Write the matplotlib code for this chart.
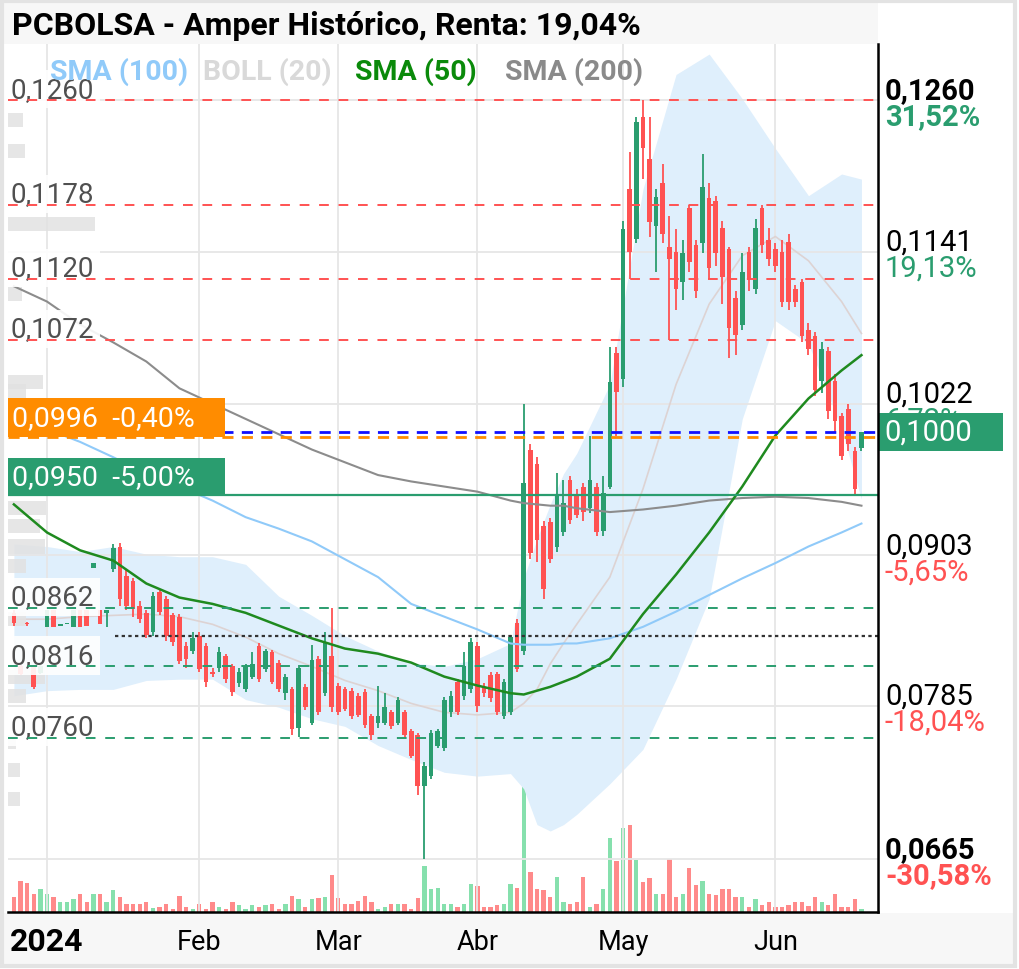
import matplotlib.pyplot as plt
from matplotlib.patches import Rectangle
import matplotlib.transforms as mtransforms
import pandas as pd

plt.rcParams['font.family'] = ['Roboto', 'DejaVu Sans']

W, H = 1020, 970

# sesiones (dias habiles) desde el 25-dic-2023
dates = pd.bdate_range('2023-12-25', periods=129)

opens = [0.0858, 0.0816, 0.0850, 0.0816, 0.0811, 0.0847, 0.0860, 0.0848, 0.0849, 0.0847,
         0.0860, 0.0860, 0.0893, 0.0860, 0.0858, 0.0892, 0.0910, 0.0887, 0.0883, 0.0863,
         0.0858, 0.0843, 0.0874, 0.0869, 0.0856, 0.0855, 0.0832, 0.0828, 0.0840, 0.0832,
         0.0812, 0.0815, 0.0824, 0.0816, 0.0803, 0.0798, 0.0808, 0.0832, 0.0814, 0.0827,
         0.0819, 0.0795, 0.0798, 0.0768, 0.0800, 0.0772, 0.0822, 0.0795, 0.0824, 0.0801,
         0.0798, 0.0797, 0.0793, 0.0796, 0.0777, 0.0772, 0.0772, 0.0780, 0.0772, 0.0780,
         0.0765, 0.0762, 0.0722, 0.0730, 0.0754, 0.0752, 0.0780, 0.0804, 0.0793, 0.0798,
         0.0832, 0.0800, 0.0809, 0.0810, 0.0777, 0.0780, 0.0850, 0.0828, 0.0986, 0.0975,
         0.0926, 0.0929, 0.0910, 0.0921, 0.0962, 0.0950, 0.0957, 0.0940, 0.0957, 0.0922,
         0.0957, 0.1062, 0.1041, 0.1190, 0.1151, 0.1247, 0.1214, 0.1161, 0.1195, 0.1145,
         0.1141, 0.1117, 0.1175, 0.1146, 0.1148, 0.1183, 0.1181, 0.1160, 0.1143, 0.1105,
         0.1084, 0.1141, 0.1112, 0.1175, 0.1150, 0.1143, 0.1141, 0.1149, 0.1112, 0.1117,
         0.1080, 0.1075, 0.1040, 0.1063, 0.1040, 0.1012, 0.1018, 0.0985, 0.0987]
highs = [0.0860, 0.0817, 0.0851, 0.0817, 0.0817, 0.0860, 0.0860, 0.0849, 0.0849, 0.0860,
         0.0860, 0.0860, 0.0897, 0.0860, 0.0860, 0.0912, 0.0913, 0.0892, 0.0885, 0.0867,
         0.0860, 0.0874, 0.0876, 0.0871, 0.0858, 0.0857, 0.0835, 0.0843, 0.0843, 0.0834,
         0.0815, 0.0831, 0.0826, 0.0818, 0.0815, 0.0818, 0.0827, 0.0834, 0.0830, 0.0829,
         0.0821, 0.0810, 0.0800, 0.0817, 0.0802, 0.0833, 0.0824, 0.0843, 0.0862, 0.0803,
         0.0800, 0.0799, 0.0795, 0.0798, 0.0779, 0.0801, 0.0795, 0.0782, 0.0792, 0.0782,
         0.0767, 0.0764, 0.0741, 0.0766, 0.0767, 0.0792, 0.0797, 0.0806, 0.0827, 0.0838,
         0.0835, 0.0803, 0.0812, 0.0812, 0.0806, 0.0841, 0.0853, 0.1022, 0.0990, 0.0980,
         0.0930, 0.0932, 0.0968, 0.0962, 0.0965, 0.0955, 0.0960, 0.0997, 0.0960, 0.0965,
         0.1066, 0.1066, 0.1165, 0.1219, 0.1247, 0.1260, 0.1247, 0.1190, 0.1210, 0.1169,
         0.1159, 0.1150, 0.1178, 0.1150, 0.1218, 0.1195, 0.1185, 0.1165, 0.1145, 0.1110,
         0.1140, 0.1145, 0.1167, 0.1178, 0.1160, 0.1148, 0.1150, 0.1155, 0.1115, 0.1120,
         0.1085, 0.1078, 0.1070, 0.1066, 0.1045, 0.1015, 0.1022, 0.0988, 0.1000]
lows = [0.0848, 0.0809, 0.0848, 0.0798, 0.0810, 0.0847, 0.0847, 0.0848, 0.0849, 0.0847,
        0.0847, 0.0848, 0.0893, 0.0849, 0.0847, 0.0890, 0.0863, 0.0860, 0.0855, 0.0850,
        0.0838, 0.0840, 0.0856, 0.0836, 0.0832, 0.0818, 0.0815, 0.0826, 0.0812, 0.0800,
        0.0808, 0.0812, 0.0803, 0.0793, 0.0800, 0.0796, 0.0806, 0.0804, 0.0812, 0.0802,
        0.0796, 0.0790, 0.0762, 0.0761, 0.0782, 0.0770, 0.0778, 0.0793, 0.0780, 0.0778,
        0.0781, 0.0775, 0.0776, 0.0768, 0.0758, 0.0768, 0.0770, 0.0767, 0.0770, 0.0760,
        0.0744, 0.0715, 0.0665, 0.0728, 0.0752, 0.0750, 0.0776, 0.0778, 0.0790, 0.0795,
        0.0780, 0.0792, 0.0788, 0.0778, 0.0775, 0.0778, 0.0812, 0.0825, 0.0900, 0.0898,
        0.0869, 0.0897, 0.0906, 0.0918, 0.0928, 0.0932, 0.0930, 0.0936, 0.0918, 0.0918,
        0.0955, 0.0997, 0.1035, 0.1120, 0.1148, 0.1198, 0.1153, 0.1125, 0.1148, 0.1072,
        0.1095, 0.1103, 0.1125, 0.1105, 0.1140, 0.1120, 0.1130, 0.1100, 0.1058, 0.1060,
        0.1080, 0.1110, 0.1108, 0.1140, 0.1130, 0.1125, 0.1098, 0.1095, 0.1098, 0.1070,
        0.1060, 0.1028, 0.1030, 0.1010, 0.1000, 0.0978, 0.0985, 0.0950, 0.0985]
closes = [0.0850, 0.0810, 0.0849, 0.0800, 0.0816, 0.0860, 0.0847, 0.0849, 0.0849, 0.0860,
          0.0847, 0.0848, 0.0897, 0.0849, 0.0860, 0.0909, 0.0869, 0.0863, 0.0861, 0.0853,
          0.0841, 0.0871, 0.0859, 0.0840, 0.0835, 0.0820, 0.0822, 0.0838, 0.0814, 0.0804,
          0.0810, 0.0827, 0.0806, 0.0796, 0.0812, 0.0816, 0.0818, 0.0806, 0.0828, 0.0804,
          0.0798, 0.0808, 0.0767, 0.0815, 0.0784, 0.0821, 0.0780, 0.0835, 0.0784, 0.0780,
          0.0783, 0.0777, 0.0778, 0.0770, 0.0762, 0.0777, 0.0784, 0.0769, 0.0790, 0.0762,
          0.0746, 0.0722, 0.0738, 0.0764, 0.0765, 0.0790, 0.0793, 0.0780, 0.0816, 0.0835,
          0.0785, 0.0795, 0.0791, 0.0780, 0.0804, 0.0839, 0.0814, 0.0960, 0.0905, 0.0915,
          0.0877, 0.0900, 0.0950, 0.0944, 0.0931, 0.0935, 0.0937, 0.0962, 0.0921, 0.0952,
          0.1039, 0.1031, 0.1159, 0.1141, 0.1243, 0.1222, 0.1164, 0.1184, 0.1155, 0.1135,
          0.1112, 0.1140, 0.1133, 0.1110, 0.1192, 0.1128, 0.1140, 0.1121, 0.1081, 0.1076,
          0.1125, 0.1120, 0.1160, 0.1146, 0.1135, 0.1130, 0.1102, 0.1102, 0.1102, 0.1075,
          0.1065, 0.1033, 0.1065, 0.1016, 0.1008, 0.0981, 0.0990, 0.0955, 0.1000]
# volumen (miles de titulos)
volumes = [15, 31, 29, 18, 23, 18, 15, 10, 10, 13,
           18, 10, 18, 18, 10, 22, 15, 8, 8, 8,
           10, 4, 5, 8, 3, 16, 5, 3, 8, 3,
           10, 5, 3, 10, 7, 3, 7, 5, 7, 8,
           3, 8, 16, 13, 5, 13, 14, 15, 37, 14,
           8, 8, 11, 16, 10, 3, 5, 8, 8, 8,
           3, 14, 46, 23, 24, 8, 8, 5, 8, 28,
           26, 5, 5, 7, 8, 28, 24, 128, 40, 23,
           22, 15, 35, 10, 8, 10, 35, 5, 8, 23,
           74, 51, 84, 87, 52, 30, 34, 18, 18, 53,
           15, 18, 44, 27, 31, 18, 17, 23, 23, 15,
           15, 5, 13, 7, 10, 5, 5, 7, 10, 10,
           6, 15, 10, 7, 18, 5, 5, 13, 3]

line_pos = [0, 5, 10, 15, 20, 25, 30, 35, 40, 45, 50, 55, 60, 65, 70,
            75, 77, 79, 81, 83, 85, 90, 95, 100, 105, 110, 115, 120, 125, 128]
sma50 = [0.0943, 0.0921, 0.0907, 0.0899, 0.0881, 0.0870, 0.0865, 0.0858, 0.0848, 0.0838,
         0.0830, 0.0826, 0.0819, 0.0808, 0.0801, 0.0795, 0.0794, 0.0797, 0.0800, 0.0804,
         0.0808, 0.0822, 0.0857, 0.0888, 0.0921, 0.0957, 0.0997, 0.1026, 0.1048, 0.1060]
sma100 = [0.1014, 0.1002, 0.0992, 0.0980, 0.0967, 0.0957, 0.0946, 0.0933, 0.0924, 0.0914,
          0.0900, 0.0886, 0.0865, 0.0855, 0.0845, 0.0834, 0.0833, 0.0833, 0.0833, 0.0834,
          0.0834, 0.0838, 0.0847, 0.0859, 0.0872, 0.0885, 0.0897, 0.0910, 0.0921, 0.0928]
sma200 = [0.1114, 0.1102, 0.1084, 0.1070, 0.1055, 0.1034, 0.1022, 0.1010, 0.0998, 0.0986,
          0.0976, 0.0966, 0.0961, 0.0957, 0.0953, 0.0946, 0.0944, 0.0943, 0.0942, 0.0942,
          0.0940, 0.0937, 0.0939, 0.0942, 0.0946, 0.0948, 0.0949, 0.0948, 0.0945, 0.0942]
boll_mid = [0.0853, 0.0853, 0.0855, 0.0856, 0.0857, 0.0855, 0.0849, 0.0839, 0.0826, 0.0816,
            0.0805, 0.0797, 0.0787, 0.0780, 0.0778, 0.0780, 0.0787, 0.0798, 0.0818, 0.0834,
            0.0849, 0.0886, 0.0955, 0.1037, 0.1100, 0.1138, 0.1153, 0.1134, 0.1102, 0.1077]
boll_up = [0.0912, 0.0910, 0.0906, 0.0910, 0.0904, 0.0902, 0.0902, 0.0896, 0.0871, 0.0856,
           0.0840, 0.0828, 0.0819, 0.0816, 0.0822, 0.0834, 0.0885, 0.0916, 0.0943, 0.0967,
           0.0983, 0.1037, 0.1190, 0.1280, 0.1296, 0.1261, 0.1222, 0.1185, 0.1202, 0.1198]
boll_low = [0.0793, 0.0797, 0.0798, 0.0798, 0.0805, 0.0806, 0.0806, 0.0790, 0.0784, 0.0775,
            0.0769, 0.0754, 0.0743, 0.0733, 0.0730, 0.0732, 0.0720, 0.0692, 0.0687, 0.0692,
            0.0700, 0.0724, 0.0751, 0.0806, 0.0869, 0.1010, 0.1087, 0.1069, 0.1002, 0.0947]

# niveles
resist = [0.1260, 0.1178, 0.1120, 0.1072]
support = [0.0862, 0.0816, 0.0760]
ref_level = 0.0840
last_price = 0.1000
alert_price = 0.0996
stop_price = 0.0950
axis_prices = [0.1260, 0.1141, 0.1022, 0.0903, 0.0785, 0.0665]
axis_pcts = ['31,52%', '19,13%', '6,72%', '-5,65%', '-18,04%', '-30,58%']
month_labels = ['2024', 'Feb', 'Mar', 'Abr', 'May', 'Jun']

# perfil de volumen por precio
profile_prices = [0.1244, 0.1220, 0.1163, 0.1108, 0.1039, 0.1032, 0.0940, 0.0926,
                  0.0910, 0.0895, 0.0853, 0.0808, 0.0793, 0.0757, 0.0735, 0.0712]
profile_vols = [15, 17, 87, 14, 35, 18, 38, 32, 37, 18, 18, 37, 18, 8, 12, 12]

GREEN = '#2a9d6f'
RED = '#ff5252'
VOL_G = '#86e0ad'
VOL_R = '#ff8a8a'

fig = plt.figure(figsize=(W / 100, H / 100), dpi=100)
fig.patch.set_facecolor('white')


def px_rect(x0, y0, x1, y1):
    return [x0 / W, 1 - y1 / H, (x1 - x0) / W, (y1 - y0) / H]


def fig_box(x0, y0, x1, y1, **kw):
    r = px_rect(x0, y0, x1, y1)
    fig.add_artist(Rectangle((r[0], r[1]), r[2], r[3], transform=fig.transFigure, zorder=0, **kw))


# marco, barra de titulo y barra de fechas
fig_box(4, 4, 878, 45, fc='#f7f7f7', ec='none')
fig_box(4, 914, 1014, 965, fc='#f7f7f7', ec='none')
fig_box(2, 2, 1015, 967, fc='none', ec='#e3e3e3', lw=3)

rect = px_rect(8, 45, 878, 913)
x0, x1 = -0.89, 130.5
y0, y1 = 0.06235, 0.13039

vol_ax = fig.add_axes(rect, zorder=1)
vol_ax.set_xlim(x0, x1)
vol_ax.set_ylim(0, 868)
vol_ax.axis('off')

ax = fig.add_axes(rect, zorder=2)
ax.patch.set_alpha(0)
ax.set_xlim(x0, x1)
ax.set_ylim(y0, y1)
ax.set_xticks([])
ax.set_yticks([])
for s in ['top', 'left']:
    ax.spines[s].set_visible(False)
for s in ['right', 'bottom']:
    ax.spines[s].set_linewidth(1.8)
    ax.spines[s].set_color('black')
    ax.spines[s].set_zorder(10)

pos = list(range(len(closes)))
is_up = [c >= o for o, c in zip(opens, closes)]
cols = [GREEN if u else RED for u in is_up]

# volumen
vol_ax.bar(pos, volumes, width=0.65, color=[VOL_G if u else VOL_R for u in is_up])

# inicio de cada mes
month_pos = []
seen = set()
for k, d in enumerate(dates):
    if (d.year, d.month) not in seen:
        seen.add((d.year, d.month))
        month_pos.append(k)
month_pos = month_pos[1:]

# rejilla
for k in month_pos:
    ax.axvline(k, color='#e6e6e6', lw=1.3, zorder=1.1)
for p in axis_prices:
    ax.axhline(p, color='#e6e6e6', lw=1.3, zorder=1.1)

# bandas de Bollinger
ax.fill_between(line_pos, boll_low, boll_up, color='#dfeffc', lw=0, zorder=1)
ax.plot(line_pos, boll_mid, color='#ddd3d3', lw=1.2, zorder=1.2)

# perfil de volumen
blend = mtransforms.blended_transform_factory(ax.transAxes, ax.transData)
for p, v in zip(profile_prices, profile_vols):
    ax.add_patch(Rectangle((0, p - 0.00055), v / 870, 0.0011, transform=blend,
                           color='#e2e2e2', alpha=0.85, lw=0, zorder=1.5))

# velas
ax.vlines(pos, lows, highs, color=cols, lw=1.3, zorder=3)
bodies = [max(abs(c - o), 0.00008) for o, c in zip(opens, closes)]
ax.bar(pos, bodies, bottom=[min(o, c) for o, c in zip(opens, closes)],
       width=0.7, color=cols, zorder=3)

# medias moviles
ax.plot(line_pos, sma200, color='#8c8c8c', lw=1.5, zorder=3.5)
ax.plot(line_pos, sma100, color='#90caf9', lw=1.5, zorder=3.5)
ax.plot(line_pos, sma50, color='#1f8a1f', lw=1.8, zorder=3.6)

# niveles horizontales
for p in resist:
    ax.axhline(p, color=RED, lw=1.4, ls=(0, (5, 5)), zorder=4)
for p in support:
    ax.axhline(p, color=GREEN, lw=1.4, ls=(0, (5, 5)), zorder=4)
ax.plot([15.3, x1], [ref_level, ref_level], color='#333333', lw=1.6, ls=(0, (1.5, 1.5)), zorder=4)
ax.axhline(alert_price, color='#ff8c00', lw=2, ls=(0, (4, 3)), zorder=4)
ax.axhline(last_price, color='#1010ff', lw=2, ls=(0, (4, 3)), zorder=4.1)
ax.axhline(stop_price, color=GREEN, lw=1.6, zorder=4)


def fmt(p):
    return f'{p:.4f}'.replace('.', ',')


# etiquetas de niveles a la izquierda
for p in resist + support:
    ax.annotate(fmt(p), xy=(0, p), xycoords=('axes fraction', 'data'),
                xytext=(2, 2.5), textcoords='offset points', va='baseline',
                fontsize=20, color='#505050', zorder=3.8,
                bbox=dict(boxstyle='square,pad=0.2', fc='white', ec='none', alpha=0.9))

# cajas de alerta y stop
for p, h, c, txt in [(alert_price, 0.00306, '#ff8c00', '0,0996  -0,40%'),
                     (stop_price, 0.0029, GREEN, '0,0950  -5,00%')]:
    ax.add_patch(Rectangle((0, p), 217 / 870, h, transform=blend, color=c, lw=0, zorder=5))
    ax.text(4 / 870, p + h / 2, txt, transform=blend, color='white', fontsize=20.5,
            va='center', ha='left', zorder=5.1)

# eje derecho
for i, (p, pct) in enumerate(zip(axis_prices, axis_pcts)):
    bold = i in (0, len(axis_prices) - 1)
    w = 'bold' if bold else 'normal'
    ax.annotate(fmt(p), xy=(1, p), xycoords=('axes fraction', 'data'),
                xytext=(5, 1.5), textcoords='offset points', va='baseline',
                fontsize=21, fontweight=w, color='black', annotation_clip=False, zorder=6)
    ax.annotate(pct, xy=(1, p), xycoords=('axes fraction', 'data'),
                xytext=(5, -1.5), textcoords='offset points', va='top',
                fontsize=21, fontweight=w, color=RED if pct.startswith('-') else GREEN,
                annotation_clip=False, zorder=6)

ax.add_patch(Rectangle((1, last_price - 0.0015), 125 / 870, 0.0030, transform=blend,
                       color=GREEN, lw=0, zorder=7, clip_on=False))
ax.text(1 + 6 / 870, last_price, fmt(last_price), transform=blend, color='white',
        fontsize=21, va='center', ha='left', zorder=7.1, clip_on=False)

# fechas
for k, lbl in zip(month_pos, month_labels):
    ax.annotate(lbl, xy=(k, 0), xycoords=('data', 'axes fraction'),
                xytext=(0, -21), textcoords='offset points', ha='center', va='center',
                fontsize=23 if lbl == '2024' else 19.5,
                fontweight='bold' if lbl == '2024' else 'normal',
                annotation_clip=False)

# titulo y leyenda
fig.text(12 / W, 1 - 26 / H, 'PCBOLSA - Amper Histórico, Renta: 19,04%',
         fontsize=23, fontweight='bold', va='center', ha='left')
for x, txt, c in [(50, 'SMA (100)', '#90caf9'), (203, 'BOLL (20)', '#d9d9d9'),
                  (355, 'SMA (50)', '#0a8a0a'), (505, 'SMA (200)', '#8a8a8a')]:
    fig.text(x / W, 1 - 72 / H, txt, fontsize=20.5, fontweight='bold', color=c,
             va='center', ha='left', zorder=8)

fig.savefig('out.png', dpi=100)
